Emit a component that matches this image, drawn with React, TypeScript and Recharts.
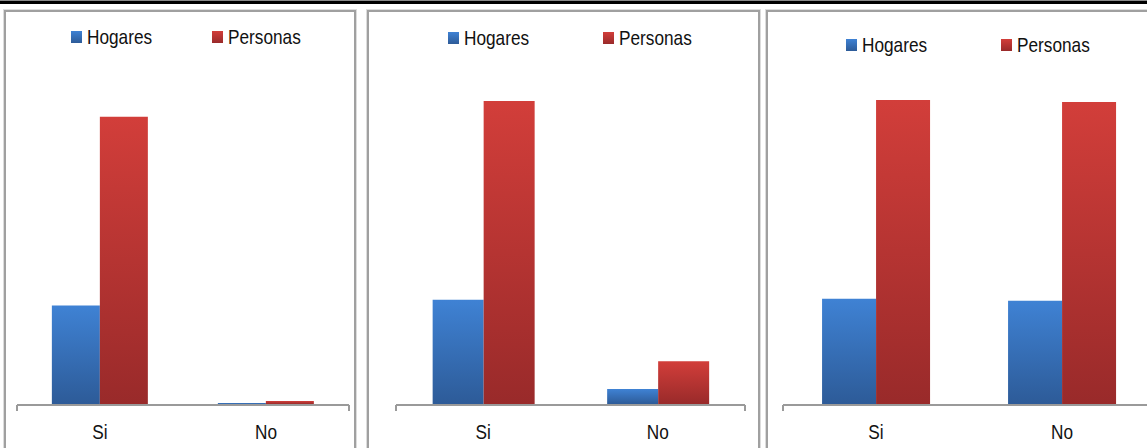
import { BarChart, Bar, XAxis, YAxis, Legend } from 'recharts';

// values, one unit = one pixel of bar height
const categories = ['Si', 'No'];
const seriesNames = ['Hogares', 'Personas'];
const hogaresA = [99, 1];
const personasA = [289, 3];
const hogaresB = [105, 15];
const personasB = [305, 43];
const hogaresC = [106, 104];
const personasC = [306, 304];
const edgeTicks = [0, 1, 2];

// no narrow face installed, so Liberation Sans is squeezed to look like Arial Narrow
const font = "'Liberation Sans', Arial, sans-serif";
const narrow = 0.82;

const colors = {
    blueTop: '#3f82d4',
    blueBottom: '#2d5b98',
    redTop: '#d23e3a',
    redBottom: '#992a2a',
    axis: '#9a9a9a',
    border: '#a0a0a0',
    text: '#111111',
};

const panels = [
    { id: 'a', hogares: hogaresA, personas: personasA, left: 0, width: 360, mLeft: 17, mRight: 11, legendLeft: 71, legendTop: 25, legendGap: 141 },
    { id: 'b', hogares: hogaresB, personas: personasB, left: 360, width: 400, mLeft: 36, mRight: 15, legendLeft: 88, legendTop: 26, legendGap: 155 },
    { id: 'c', hogares: hogaresC, personas: personasC, left: 760, width: 400, mLeft: 23, mRight: 5, legendLeft: 86, legendTop: 33, legendGap: 155 },
];

const frames = [
    { left: 4, width: 352 },
    { left: 367, width: 393 },
    { left: 766, width: 500 },
];

const legendFills = [
    `linear-gradient(${colors.blueTop}, ${colors.blueBottom})`,
    `linear-gradient(${colors.redTop}, ${colors.redBottom})`,
];

const LegendRow = ({ gap }: { gap: number }) => (
    <div style={{ position: 'relative', height: 24, fontFamily: font, fontSize: 21, lineHeight: '24px', color: colors.text }}>
        {seriesNames.map((name, i) => (
            <div key={name} style={{ position: 'absolute', left: i * gap, top: 0, display: 'flex', alignItems: 'center', whiteSpace: 'nowrap' }}>
                <span style={{ display: 'inline-block', width: 11, height: 12, background: legendFills[i] }} />
                <span style={{ marginLeft: 5, display: 'inline-block', transform: `scaleX(${narrow})`, transformOrigin: 'left center' }}>{name}</span>
            </div>
        ))}
    </div>
);

const NarrowTick = ({ x, y, payload }: any) => (
    <g transform={`translate(${x},${y})`}>
        <text transform={`scale(${narrow},1)`} textAnchor="middle" dy="0.71em" fill={colors.text}
            fontSize={21} fontFamily={font}>{payload.value}</text>
    </g>
);

const Panel = ({ p }: { p: typeof panels[number] }) => {
    const data = categories.map((c, i) => ({ name: c, Hogares: p.hogares[i], Personas: p.personas[i] }));
    return (
        <div style={{ position: 'absolute', left: p.left, top: 0 }}>
            <BarChart width={p.width} height={448} data={data} barCategoryGap="21%" barGap={0}
                margin={{ top: 86, right: p.mRight, bottom: 42, left: p.mLeft }}>
                <defs>
                    <linearGradient id={`blue-${p.id}`} x1="0" y1="0" x2="0" y2="1">
                        <stop offset="0%" stopColor={colors.blueTop} />
                        <stop offset="100%" stopColor={colors.blueBottom} />
                    </linearGradient>
                    <linearGradient id={`red-${p.id}`} x1="0" y1="0" x2="0" y2="1">
                        <stop offset="0%" stopColor={colors.redTop} />
                        <stop offset="100%" stopColor={colors.redBottom} />
                    </linearGradient>
                </defs>
                <XAxis xAxisId="edge" type="number" domain={[0, 2]} allowDataOverflow ticks={edgeTicks} interval={0}
                    tick={() => <g />} tickSize={6} height={1} axisLine={{ stroke: colors.axis, strokeWidth: 2 }}
                    tickLine={{ stroke: colors.axis, strokeWidth: 2 }} />
                <XAxis xAxisId="cat" dataKey="name" height={1} axisLine={false} tickLine={false} tickSize={0} tickMargin={20}
                    tick={<NarrowTick />} />
                <YAxis hide domain={[0, 320]} allowDataOverflow />
                <Legend layout="horizontal" verticalAlign="middle" align="center"
                    wrapperStyle={{ left: p.legendLeft, top: p.legendTop, width: 300 }}
                    content={<LegendRow gap={p.legendGap} />} />
                <Bar xAxisId="cat" dataKey="Hogares" fill={`url(#blue-${p.id})`} isAnimationActive={false} />
                <Bar xAxisId="cat" dataKey="Personas" fill={`url(#red-${p.id})`} isAnimationActive={false} />
            </BarChart>
        </div>
    );
};

const App = () => (
    <div style={{ position: 'absolute', left: 0, top: 0, width: 1147, height: 448, overflow: 'hidden', background: '#fff' }}>
        <div style={{ position: 'absolute', left: 0, top: 0, width: 1147, height: 1, background: '#8a8a8a' }} />
        <div style={{ position: 'absolute', left: 0, top: 1, width: 1147, height: 3, background: '#000' }} />
        {frames.map((f, i) => (
            <div key={i} style={{
                position: 'absolute', left: f.left, top: 10, width: f.width, height: 470, boxSizing: 'border-box',
                border: `2px solid ${colors.border}`, boxShadow: '0 0 0 1px #dcdcdc',
            }} />
        ))}
        {panels.map(p => <Panel key={p.id} p={p} />)}
    </div>
);

export default App;
